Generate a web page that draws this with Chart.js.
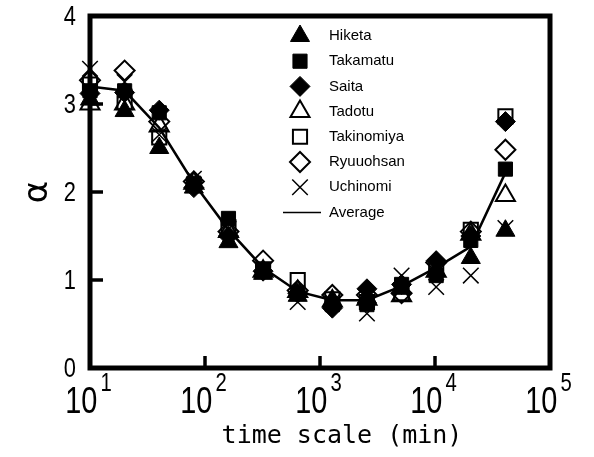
<!DOCTYPE html>
<html>
<head>
<meta charset="utf-8">
<script src="https://cdn.jsdelivr.net/npm/chart.js@4.4.0/dist/chart.umd.min.js"></script>
<style>
html, body { margin: 0; padding: 0; background: #fff; }
#wrap { width: 594px; height: 457px; }
</style>
</head>
<body>
<div id="wrap"><canvas id="myChart" width="594" height="457"></canvas></div>
<script>
// time scale (min)
var timeScale = [10, 20, 40, 80, 160, 320, 640, 1280, 2560, 5120, 10240, 20480, 40960];

var hiketa     = [3.05, 2.92, 2.50, 2.05, 1.43, 1.07, 0.82, 0.75, 0.80, 0.90, 1.10, 1.25, 1.56];
var takamatu   = [3.15, 3.15, 2.90, 2.10, 1.70, 1.12, 0.85, 0.72, 0.72, 0.95, 1.05, 1.45, 2.26];
var saita      = [3.12, 3.13, 2.93, 2.05, 1.50, 1.10, 0.85, 0.68, 0.90, 0.95, 1.22, 1.50, 2.80];
var tadotu     = [3.00, 3.00, 2.75, 2.10, 1.55, 1.10, 0.87, 0.76, 0.78, 0.82, 1.10, 1.52, 1.96];
var takinomiya = [3.22, 3.02, 2.62, 2.08, 1.60, 1.12, 1.00, 0.78, 0.75, 0.85, 1.15, 1.57, 2.86];
var ryuuohsan  = [3.27, 3.38, 2.80, 2.12, 1.55, 1.22, 0.88, 0.83, 0.83, 0.85, 1.20, 1.55, 2.48];
var uchinomi   = [3.40, 3.25, 2.65, 2.15, 1.58, 1.10, 0.75, 0.75, 0.62, 1.05, 0.92, 1.05, 1.59];
var average    = [3.20, 3.15, 2.73, 2.10, 1.57, 1.14, 0.87, 0.77, 0.77, 0.93, 1.14, 1.38, 2.22];

var xTickValues = [10, 100, 1000, 10000, 100000];
var xTickExps = ['1', '2', '3', '4', '5'];
var yTickValues = [0, 1, 2, 3, 4];

var xTitle = 'time scale (min)';
var yTitle = '\u03b1';

var digitFont = '"Liberation Sans", Arial, sans-serif';
var squeeze = 0.78;   // digits in the picture are tall and narrow

function pts(vals) {
  return timeScale.map(function (t, i) { return {x: t, y: vals[i]}; });
}

function markerSet(label, vals, style, r, filled, bw) {
  return {
    label: label,
    data: pts(vals),
    pointStyle: style,
    pointRadius: r,
    pointBorderWidth: bw,
    pointBackgroundColor: filled ? '#000' : 'rgba(0,0,0,0)',
    pointBorderColor: '#000',
    showLine: false,
    clip: false
  };
}

var series = [
  markerSet('Hiketa', hiketa, 'triangle', 11, true, 1),
  markerSet('Takamatu', takamatu, 'rect', 10, true, 1),
  markerSet('Saita', saita, 'rectRot', 10, true, 1),
  markerSet('Tadotu', tadotu, 'triangle', 11, false, 2),
  markerSet('Takinomiya', takinomiya, 'rect', 10, false, 2),
  markerSet('Ryuuohsan', ryuuohsan, 'rectRot', 10, false, 2),
  markerSet('Uchinomi', uchinomi, 'crossRot', 11, false, 1.5)
];

var avgSet = {
  label: 'Average',
  data: pts(average),
  showLine: true,
  borderColor: '#000',
  borderWidth: 2.5,
  pointRadius: 0,
  clip: false
};

// draw text squeezed horizontally, x is the left edge (or right edge if alignRight)
function narrowText(ctx, text, x, y, size, alignRight) {
  ctx.font = size + 'px ' + digitFont;
  var w = ctx.measureText(text).width * squeeze;
  var left = alignRight ? x - w : x;
  ctx.save();
  ctx.translate(left, y);
  ctx.scale(squeeze, 1);
  ctx.textAlign = 'left';
  ctx.fillText(text, 0, 0);
  ctx.restore();
  return w;
}

function narrowWidth(ctx, text, size) {
  ctx.font = size + 'px ' + digitFont;
  return ctx.measureText(text).width * squeeze;
}

// frame + inward ticks + labels
var framePlugin = {
  id: 'frame',
  beforeDatasetsDraw: function (chart) {
    var ctx = chart.ctx, a = chart.chartArea;
    var xs = chart.scales.x, ys = chart.scales.y;
    ctx.save();
    ctx.strokeStyle = '#000';
    ctx.lineWidth = 3.5;
    xTickValues.slice(1, -1).forEach(function (v) {
      var px = xs.getPixelForValue(v);
      ctx.beginPath(); ctx.moveTo(px, a.bottom); ctx.lineTo(px, a.bottom - 12); ctx.stroke();
    });
    yTickValues.slice(1, -1).forEach(function (v) {
      var py = ys.getPixelForValue(v);
      ctx.beginPath(); ctx.moveTo(a.left, py); ctx.lineTo(a.left + 13, py); ctx.stroke();
    });
    ctx.lineWidth = 5;
    ctx.strokeRect(a.left, a.top, a.right - a.left, a.bottom - a.top);
    ctx.restore();
  },
  afterDraw: function (chart) {
    var ctx = chart.ctx, xs = chart.scales.x, ys = chart.scales.y;
    ctx.save();
    ctx.fillStyle = '#000';

    // y tick labels
    ctx.textBaseline = 'middle';
    yTickValues.forEach(function (v) {
      narrowText(ctx, String(v), 76, ys.getPixelForValue(v) + 1, 28, true);
    });

    // x tick labels 10^n
    ctx.textBaseline = 'alphabetic';
    xTickValues.forEach(function (v, i) {
      var px = xs.getPixelForValue(v);
      var wBase = narrowWidth(ctx, '10', 37);
      var wExp = narrowWidth(ctx, xTickExps[i], 26);
      var x0 = px - (wBase + wExp) / 2 - 3;
      narrowText(ctx, '10', x0, 413, 37, false);
      narrowText(ctx, xTickExps[i], x0 + wBase + 3, 391, 26, false);
    });

    // x title
    ctx.font = '25px "DejaVu Sans Mono", monospace';
    ctx.textAlign = 'center';
    ctx.textBaseline = 'middle';
    ctx.fillText(xTitle, 342, 436);

    // legend
    var lx = 300, ly = 36, step = 25.2;
    ctx.font = '15px "Liberation Sans", Arial, sans-serif';
    ctx.textAlign = 'left';
    ctx.textBaseline = 'middle';
    series.forEach(function (s, i) {
      var y = ly + i * step;
      ctx.fillStyle = s.pointBackgroundColor;
      ctx.strokeStyle = '#000';
      ctx.lineWidth = s.pointBorderWidth;
      Chart.helpers.drawPoint(ctx, {
        pointStyle: s.pointStyle, radius: s.pointRadius, rotation: 0, borderWidth: s.pointBorderWidth
      }, lx, y);
      ctx.fillStyle = '#000';
      ctx.fillText(s.label, 329, y);
    });
    var yAvg = ly + series.length * step;
    ctx.lineWidth = 1.5;
    ctx.beginPath(); ctx.moveTo(283, yAvg); ctx.lineTo(321, yAvg); ctx.stroke();
    ctx.fillText(avgSet.label, 329, yAvg);
    ctx.restore();
  }
};

var ctx = document.getElementById('myChart');
var myChart = new Chart(ctx, {
  type: 'scatter',
  data: { datasets: [avgSet].concat(series) },
  options: {
    responsive: false,
    animation: false,
    events: [],
    layout: { padding: { top: 16, right: 44, left: 0, bottom: 0 } },
    plugins: { legend: { display: false }, tooltip: { enabled: false } },
    scales: {
      x: {
        type: 'logarithmic',
        min: 10,
        max: 100000,
        grid: { display: false },
        border: { display: false },
        ticks: { display: false },
        afterFit: function (s) { s.height = 89; }
      },
      y: {
        min: 0,
        max: 4,
        grid: { display: false },
        border: { display: false },
        ticks: { display: false, stepSize: 1 },
        title: {
          display: true,
          text: yTitle,
          color: '#000',
          font: { family: '"DejaVu Sans", sans-serif', size: 34 },
          padding: { top: 18, bottom: 0 }
        },
        afterFit: function (s) { s.width = 90; }
      }
    }
  },
  plugins: [framePlugin]
});
</script>
</body>
</html>
